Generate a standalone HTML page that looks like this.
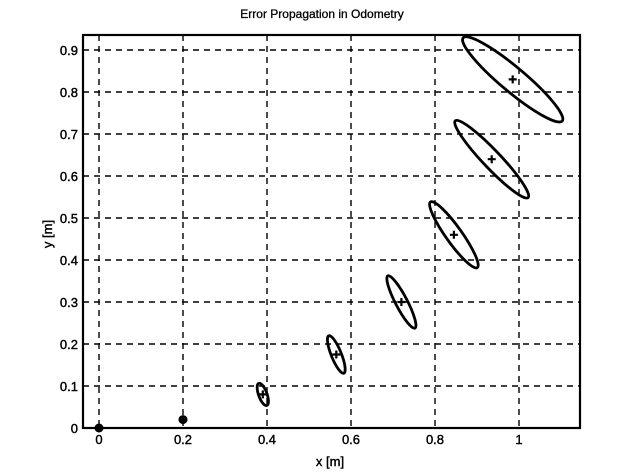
<!DOCTYPE html>
<html><head><meta charset="utf-8"><style>
body{margin:0;background:#fff;}
svg{display:block;font-family:"Liberation Sans",Arial,sans-serif;}
</style></head><body>
<svg id="chart" width="625" height="473" viewBox="0 0 625 473" xmlns="http://www.w3.org/2000/svg">
<rect x="0" y="0" width="625" height="473" fill="#fff"/>
<text x="322" y="18" text-anchor="middle" font-size="12" stroke="#000" stroke-width="0.3">Error Propagation in Odometry</text>
<g id="grid"></g>
<g id="ticks"></g>
<g id="marks"></g>
<rect x="83" y="35" width="497" height="393" fill="none" stroke="#000" stroke-width="2.2"/>
<text x="330" y="466" text-anchor="middle" font-size="13" stroke="#000" stroke-width="0.4">x [m]</text>
<text x="0" y="0" transform="translate(52,234) rotate(-90)" text-anchor="middle" font-size="13" stroke="#000" stroke-width="0.4">y [m]</text>
</svg>
<script>
const xTicks=[0,0.2,0.4,0.6,0.8,1];
const xTickLabels=["0","0.2","0.4","0.6","0.8","1"];
const yTicks=[0,0.1,0.2,0.3,0.4,0.5,0.6,0.7,0.8,0.9];
const yTickLabels=["0","0.1","0.2","0.3","0.4","0.5","0.6","0.7","0.8","0.9"];
const poseX=[0.39,0.565,0.72,0.845,0.935,0.985];
const poseY=[0.08,0.175,0.30,0.46,0.64,0.83];
const semiMajor=[0.028,0.048,0.07,0.096,0.126,0.154];
const semiMinor=[0.010,0.012,0.014,0.019,0.021,0.029];
const angleDeg=[70,68,62.5,54.5,46.5,40];
const dotX=[0,0.2];
const dotY=[0,0.02];
const NS="http://www.w3.org/2000/svg";
const L=83,R=580,T=35,B=428;
const X0=99,SC=420;
function sx(v){return X0+v*SC;}
function sy(v){return B-v*SC;}
function mk(tag,attrs,parent){const e=document.createElementNS(NS,tag);for(const k in attrs)e.setAttribute(k,attrs[k]);parent.appendChild(e);return e;}
const grid=document.getElementById('grid'),ticks=document.getElementById('ticks'),marks=document.getElementById('marks');
xTicks.forEach((v,i)=>{
  const x=sx(v);
  const g=mk('line',{x1:x,x2:x,y1:T,y2:B,stroke:'#000','stroke-width':1.4,'stroke-dasharray':'6,5'},grid);
  
  
  const t=mk('text',{x:x,y:B+16,'text-anchor':'middle','font-size':13,stroke:'#000','stroke-width':0.4},ticks);
  t.textContent=xTickLabels[i];
  
  
});
yTicks.forEach((v,i)=>{
  const y=sy(v);
  const g=mk('line',{x1:L,x2:R,y1:y,y2:y,stroke:'#000','stroke-width':1.4,'stroke-dasharray':'6,5'},grid);
  
  
  const t=mk('text',{x:L-5,y:y+5,'text-anchor':'end','font-size':13,stroke:'#000','stroke-width':0.4},ticks);
  t.textContent=yTickLabels[i];
  
  
});
const cp=mk('clipPath',{id:'pc'},marks);
mk('rect',{x:L,y:T,width:R-L,height:B-T},cp);
poseX.forEach((v,i)=>{
  const cx=sx(v),cy=sy(poseY[i]);
  const e=mk('ellipse',{cx:cx,cy:cy,rx:semiMajor[i]*SC,ry:semiMinor[i]*SC,transform:`rotate(${angleDeg[i]} ${cx} ${cy})`,fill:'none',stroke:'#000','stroke-width':2.8,'clip-path':'url(#pc)'},marks);
  
  
  const p=mk('path',{d:`M${cx-4},${cy}H${cx+4}M${cx},${cy-4}V${cy+4}`,stroke:'#000','stroke-width':2.2},marks);
  
  
});
dotX.forEach((v,i)=>{
  const c=mk('circle',{cx:sx(v),cy:sy(dotY[i]),r:4.5,fill:'#000'},marks);
  
  
});
</script>
</body></html>
